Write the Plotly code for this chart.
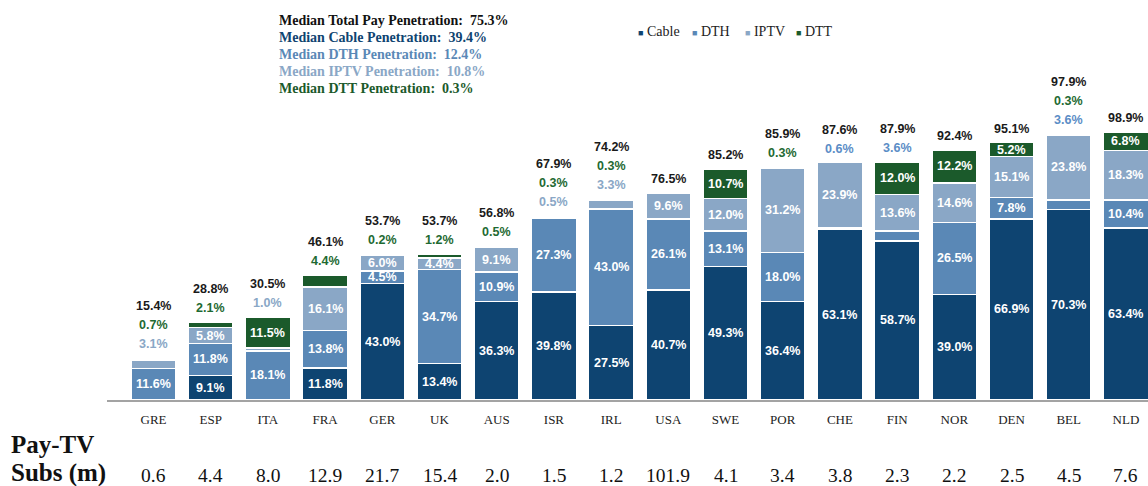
import plotly.graph_objects as go

countries = ["GRE", "ESP", "ITA", "FRA", "GER", "UK", "AUS", "ISR", "IRL",
             "USA", "SWE", "POR", "CHE", "FIN", "NOR", "DEN", "BEL", "NLD"]
cable = [0, 9.1, 0, 11.8, 43.0, 13.4, 36.3, 39.8, 27.5, 40.7, 49.3, 36.4, 63.1, 58.7, 39.0, 66.9, 70.3, 63.4]
dth = [11.6, 11.8, 18.1, 13.8, 4.5, 34.7, 10.9, 27.3, 43.0, 26.1, 13.1, 18.0, 0.6, 3.6, 26.5, 7.8, 3.6, 10.4]
iptv = [3.1, 5.8, 1.0, 16.1, 6.0, 4.4, 9.1, 0.5, 3.3, 9.6, 12.0, 31.2, 23.9, 13.6, 14.6, 15.1, 23.8, 18.3]
dtt = [0.7, 2.1, 11.5, 4.4, 0.2, 1.2, 0.5, 0.3, 0.3, 0, 10.7, 0.3, 0, 12.0, 12.2, 5.2, 0.3, 6.8]
totals = [15.4, 28.8, 30.5, 46.1, 53.7, 53.7, 56.8, 67.9, 74.2, 76.5, 85.2, 85.9, 87.6, 87.9, 92.4, 95.1, 97.9, 98.9]
subs = ["0.6", "4.4", "8.0", "12.9", "21.7", "15.4", "2.0", "1.5", "1.2",
        "101.9", "4.1", "3.4", "3.8", "2.3", "2.2", "2.5", "4.5", "7.6"]
medians = [("Median Total Pay Penetration:", "75.3%"),
           ("Median Cable Penetration:", "39.4%"),
           ("Median DTH Penetration:", "12.4%"),
           ("Median IPTV Penetration:", "10.8%"),
           ("Median DTT Penetration:", "0.3%")]

series = [("Cable", cable, "#0e4471", "#0e4471"),
          ("DTH", dth, "#5a88b6", "#5b8dc6"),
          ("IPTV", iptv, "#8aa7c6", "#8aa7c6"),
          ("DTT", dtt, "#1b5a2b", "#1e6a32")]
median_colors = ["#111111", "#0e4471", "#5a88b6", "#8aa7c6", "#1b5a2b"]
outside_extra = {("FRA", "DTT")}

W, H = 1148, 486
ML, MR, MT, MB = 107, 0, 0, 86
PW, PH = W - ML - MR, H - MT - MB
YMAX = PH / 2.71


def px(xp):
    return (xp - ML) / PW


def py(yp):
    return (H - MB - yp) / PH


SERIF = "Liberation Serif, Times New Roman, serif"
SANS = "Arial, Liberation Sans, sans-serif"

fig = go.Figure()
for name, vals, col, _ in series:
    fig.add_trace(go.Bar(x=countries, y=vals, name=name, marker_color=col,
                         marker_line=dict(color="white", width=1.6),
                         showlegend=False, hoverinfo="skip"))

ann = []
for i, c in enumerate(countries):
    base = 0.0
    outside = []
    for name, vals, col, lcol in series:
        v = vals[i]
        if v <= 0:
            continue
        if v < 4.0 or (c, name) in outside_extra:
            outside.append((f"{v:.1f}%", lcol))
        else:
            ann.append(dict(x=c, y=base + v / 2, text=f"{v:.1f}%", showarrow=False,
                            yanchor="middle",
                            font=dict(family=SANS, size=12.5, color="white", weight="bold")))
        base += v
    outside.append((f"{totals[i]:.1f}%", "#1a1a1a"))
    for k, (t, col) in enumerate(outside):
        ann.append(dict(x=c, y=base, text=t, showarrow=False, yanchor="middle",
                        yshift=14 + 19 * k,
                        font=dict(family=SANS, size=12.5, color=col, weight="bold")))
    ann.append(dict(x=c, y=py(475), yref="paper", text=subs[i], showarrow=False,
                    yanchor="middle",
                    font=dict(family=SERIF, size=19.5, color="#111111")))

ann.append(dict(x=px(9), y=py(444), xref="paper", yref="paper", xanchor="left",
                yanchor="middle", text="Pay-TV", showarrow=False,
                font=dict(family=SERIF, size=25, color="#111111", weight="bold")))
ann.append(dict(x=px(9), y=py(473), xref="paper", yref="paper", xanchor="left",
                yanchor="middle", text="Subs (m)", showarrow=False,
                font=dict(family=SERIF, size=25, color="#111111", weight="bold")))

for j, ((lab, val), col) in enumerate(zip(medians, median_colors)):
    ann.append(dict(x=px(277), y=py(20 + 17.2 * j), xref="paper", yref="paper",
                    xanchor="left", yanchor="middle", showarrow=False,
                    text=f"{lab}&nbsp;&nbsp;{val}",
                    font=dict(family=SERIF, size=14, color=col, weight="bold")))

leg_x = [636, 690, 743, 794]
for (name, vals, col, _), lx in zip(series, leg_x):
    ann.append(dict(x=px(lx), y=py(31), xref="paper", yref="paper", xanchor="left",
                    yanchor="middle", showarrow=False,
                    text=f"<span style='color:{col};font-size:9px'>■</span> {name}",
                    font=dict(family=SERIF, size=14, color="#222222")))

fig.update_layout(
    width=W, height=H, barmode="stack", bargap=0.213,
    margin=dict(l=ML, r=MR, t=MT, b=MB),
    plot_bgcolor="white", paper_bgcolor="white",
    annotations=ann,
    xaxis=dict(range=[-0.813, 17.386], showline=True, linecolor="#a3a3a3", linewidth=2,
               ticks="", showgrid=False, ticklabelstandoff=6, fixedrange=True,
               tickfont=dict(family=SERIF, size=13, color="#222222")),
    yaxis=dict(range=[0, YMAX], visible=False, showgrid=False, zeroline=False,
               fixedrange=True),
)

fig.write_html(
    "out.html",
    config={"displayModeBar": False, "staticPlot": True},
    post_script="document.documentElement.style.overflow='hidden';"
                "document.body.style.margin='0';document.body.style.overflow='hidden';",
)
